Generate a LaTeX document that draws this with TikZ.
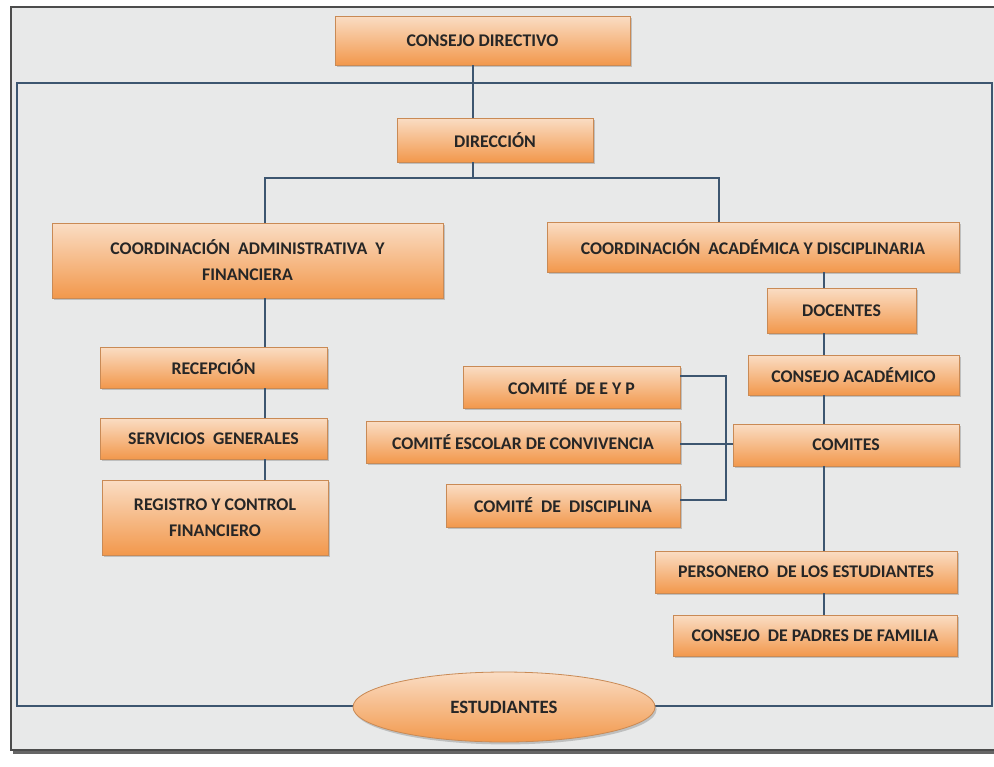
\documentclass[tikz,border=0pt]{standalone}
\usepackage{fontspec}
\setmainfont{Carlito}
\usetikzlibrary{shapes.geometric,shadows}
\definecolor{boxtop}{HTML}{FADDC4}
\definecolor{boxbot}{HTML}{F2984C}
\definecolor{boxline}{HTML}{C98A55}
\definecolor{paper}{HTML}{E8E9E9}
\definecolor{linkcol}{HTML}{3D5670}
\tikzset{
  unit/.style={draw=boxline, thin, top color=boxtop, bottom color=boxbot,
    font=\fontsize{8.9}{13}\selectfont\bfseries, text=black!85, align=center,
    inner sep=0pt, drop shadow={shadow xshift=0.8pt, shadow yshift=-1.2pt, opacity=0.4}},
  link/.style={draw=linkcol, line width=0.7pt}
}
\begin{document}
\begin{tikzpicture}[x=0.5pt, y=-0.5pt]
  \useasboundingbox (0,0) rectangle (994,766);
  \clip (0,0) rectangle (994,766);
  % frames
  \fill [white] (0,0) rectangle (994,766);
  \fill [black!60] (13,10) rectangle (1010,754);
  \draw [fill=paper, draw=black!70, line width=0.8pt] (11,7) rectangle (1010,750);
  \draw [link] (17,83) rectangle (992,706);
  % top
  \node [unit, minimum width=147.5pt, minimum height=24.5pt] (cd) at (482.5,40.5) {CONSEJO DIRECTIVO};
  \node [unit, minimum width=98pt, minimum height=22pt] (dir) at (495,140) {DIRECCIÓN};
  % left branch
  \node [unit, minimum width=195.5pt, minimum height=37.5pt] (cadm) at (247.5,260.5) {COORDINACIÓN \ ADMINISTRATIVA \ Y\\FINANCIERA};
  \node [unit, minimum width=113.5pt, minimum height=20.5pt] (recep) at (213.5,367.5) {RECEPCIÓN};
  \node [unit, minimum width=113.5pt, minimum height=20.5pt] (serv) at (213.5,438.5) {SERVICIOS \ GENERALES};
  \node [unit, minimum width=113pt, minimum height=37.5pt] (reg) at (215,517.5) {REGISTRO Y CONTROL\\FINANCIERO};
  % right branch
  \node [unit, minimum width=206pt, minimum height=25pt] (cacad) at (753,247) {COORDINACIÓN \ ACADÉMICA Y DISCIPLINARIA};
  \node [unit, minimum width=74.5pt, minimum height=22.5pt] (doc) at (841.5,310.5) {DOCENTES};
  \node [unit, minimum width=105.5pt, minimum height=20pt] (cacadem) at (853.5,375) {CONSEJO ACADÉMICO};
  \node [unit, minimum width=113pt, minimum height=21pt] (comites) at (846,445) {COMITES};
  \node [unit, minimum width=151pt, minimum height=21pt] (pers) at (806,572) {PERSONERO \ DE LOS ESTUDIANTES};
  \node [unit, minimum width=142pt, minimum height=20.5pt] (padres) at (815,635.5) {CONSEJO \ DE PADRES DE FAMILIA};
  % committees
  \node [unit, minimum width=108.5pt, minimum height=21pt] (ceyp) at (571.5,387) {COMITÉ \ DE E Y P};
  \node [unit, minimum width=157pt, minimum height=21pt] (cesc) at (523,442) {COMITÉ ESCOLAR DE CONVIVENCIA};
  \node [unit, minimum width=117pt, minimum height=21.5pt] (cdisc) at (563,505.5) {COMITÉ \ DE \ DISCIPLINA};
  % bottom
  \node [unit, ellipse, minimum width=151pt, minimum height=35pt, font=\fontsize{9.4}{12}\selectfont\bfseries] (est) at (504,707) {ESTUDIANTES};
  % connectors
  \coordinate (jd) at (473,178);
  \coordinate (jl) at (265,178);
  \coordinate (jr) at (719,178);
  \coordinate (bt) at (726,376);
  \coordinate (bm) at (726,444);
  \coordinate (bb) at (726,500);
  \draw [link] (cd.south -| jd) -- (dir.north -| jd);
  \draw [link] (dir.south -| jd) -- (jd);
  \draw [link] (cadm.north -| jl) -- (jl) -- (jr) -- (cacad.north -| jr);
  \foreach \a/\b in {cadm/recep, recep/serv, serv/reg} {
    \draw [link] (\a.south -| jl) -- (\b.north -| jl);
  };
  \foreach \a/\b in {cacad/doc, doc/cacadem, cacadem/comites, comites/pers, pers/padres} {
    \draw [link] (\a.south -| 824,0) -- (\b.north -| 824,0);
  };
  \draw [link] (ceyp.east |- bt) -- (bt) -- (bb) -- (cdisc.east |- bb);
  \draw [link] (cesc.east |- bm) -- (comites.west |- bm);
\end{tikzpicture}
\end{document}
